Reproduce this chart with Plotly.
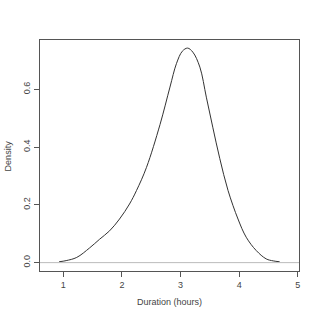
import plotly.graph_objects as go

x_vals = [0.93, 1.05, 1.23, 1.45, 1.62, 1.79, 1.96, 2.13, 2.25, 2.42, 2.65, 2.82, 2.93, 3.03, 3.12, 3.21, 3.33, 3.44, 3.55, 3.67, 3.81, 3.98, 4.12, 4.29, 4.46, 4.58, 4.69]
density = [0.003, 0.007, 0.018, 0.051, 0.081, 0.110, 0.151, 0.203, 0.25, 0.33, 0.478, 0.608, 0.689, 0.732, 0.743, 0.729, 0.677, 0.573, 0.469, 0.36, 0.25, 0.151, 0.088, 0.042, 0.013, 0.006, 0.003]
x_ticks = [1, 2, 3, 4, 5]
y_ticks = [0.0, 0.2, 0.4, 0.6]
y_tick_labels = ["0.0", "0.2", "0.4", "0.6"]

axis_col = "#555555"
font = dict(family="Liberation Sans, Arial", size=9, color="#444444")

fig = go.Figure()
fig.add_trace(go.Scatter(x=x_vals, y=density, mode="lines",
                         line=dict(color="#333333", width=1, shape="spline", smoothing=1.0),
                         hoverinfo="skip"))
fig.add_shape(type="line", xref="paper", x0=0, x1=1, yref="y", y0=0, y1=0,
              line=dict(color="#bbbbbb", width=1))

fig.update_layout(
    width=320, height=320,
    margin=dict(l=40, r=21, t=40, b=49),
    paper_bgcolor="white", plot_bgcolor="white",
    showlegend=False, font=font,
    xaxis=dict(range=[0.604, 5.02], tickvals=x_ticks, ticks="outside", ticklen=5,
               tickcolor=axis_col, showline=True, linecolor=axis_col, linewidth=1,
               mirror=True, showgrid=False, zeroline=False, tickfont=font),
    yaxis=dict(range=[-0.029, 0.771], tickvals=y_ticks, ticktext=y_tick_labels,
               ticks="outside", ticklen=5, tickcolor=axis_col, tickangle=-90,
               showline=True, linecolor=axis_col, linewidth=1, mirror=True,
               showgrid=False, zeroline=False, tickfont=font),
    annotations=[
        dict(text="Duration (hours)", xref="paper", yref="paper", x=0.5, y=-0.134,
             showarrow=False, font=font, xanchor="center", yanchor="middle"),
        dict(text="Density", xref="paper", yref="paper", x=-0.124, y=0.5,
             showarrow=False, font=font, textangle=-90, xanchor="center", yanchor="middle"),
    ],
)
fig.write_html("out.html")
